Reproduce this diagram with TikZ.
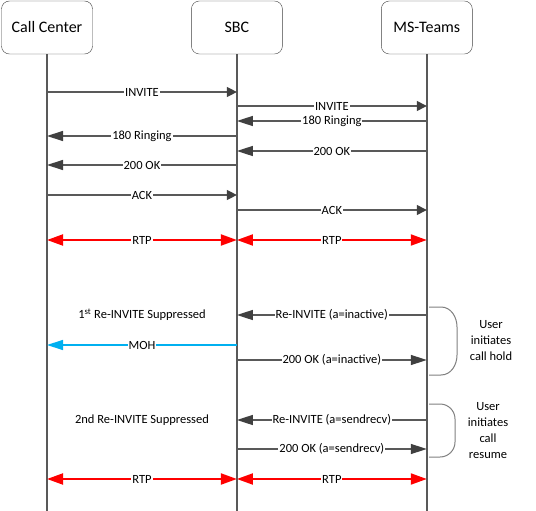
\documentclass[tikz,border=0pt]{standalone}
\usepackage{fontspec}
\setmainfont{Carlito}
\usetikzlibrary{positioning,arrows.meta}
\definecolor{linegray}{RGB}{89,89,89}
\definecolor{headgray}{RGB}{64,64,64}
\definecolor{mohblue}{RGB}{0,176,240}

\begin{document}
\begin{tikzpicture}[x=1pt,y=-1pt,node distance=98.5pt,
  party/.style = {draw=headgray, rounded corners=8pt, minimum width=91pt, minimum height=53pt, font=\fontsize{16}{19}\selectfont},
  life/.style = {draw=linegray, line width=2pt},
  msg/.style = {draw=linegray, line width=1.3pt, -{Triangle[length=16pt,width=10pt,color=headgray]}},
  shortmsg/.style = {draw=linegray, line width=1.3pt, -{Triangle[length=10pt,width=10pt,color=headgray]}},
  moh/.style = {draw=mohblue, line width=1.3pt, -{Triangle[length=16pt,width=10pt]}},
  rtp/.style = {draw=red, line width=2pt, {Triangle[length=16pt,width=11pt]}-{Triangle[length=16pt,width=11pt]}},
  lbl/.style = {fill=white, inner sep=1pt, font=\fontsize{12.5}{15}\selectfont},
  note/.style = {align=center, font=\fontsize{12.5}{16}\selectfont},
  bracket/.style = {draw=gray, line width=1pt}]
\useasboundingbox (0,0) rectangle (536,511);

\node (cc) [party] at (47,27.5) {Call Center};
\node (sbc) [party, right=of cc] {SBC};
\node (ms) [party, right=of sbc] {MS-Teams};

\coordinate (bot) at (0,511);
\coordinate (r1) at (0,92);
\coordinate (r2) at (0,106);
\coordinate (r3) at (0,121);
\coordinate (r4) at (0,136);
\coordinate (r5) at (0,151);
\coordinate (r6) at (0,165);
\coordinate (r7) at (0,195);
\coordinate (r8) at (0,210);
\coordinate (r9) at (0,240);
\coordinate (r10) at (0,315);
\coordinate (r11) at (0,345);
\coordinate (r12) at (0,360);
\coordinate (r13) at (0,420);
\coordinate (r14) at (0,449);
\coordinate (r15) at (0,479);

\draw[life] (cc.south) -- (cc |- bot);
\draw[life] (sbc.south) -- (sbc |- bot);
\draw[life] (ms.south) -- (ms |- bot);

\draw[shortmsg] (cc |- r1) -- node[lbl] {INVITE} (sbc |- r1);
\draw[shortmsg] (sbc |- r2) -- node[lbl] {INVITE} (ms |- r2);
\draw[msg] (ms |- r3) -- node[lbl] {180 Ringing} (sbc |- r3);
\draw[msg] (sbc |- r4) -- node[lbl] {180 Ringing} (cc |- r4);
\draw[msg] (ms |- r5) -- node[lbl] {200 OK} (sbc |- r5);
\draw[msg] (sbc |- r6) -- node[lbl] {200 OK} (cc |- r6);
\draw[shortmsg] (cc |- r7) -- node[lbl] {ACK} (sbc |- r7);
\draw[shortmsg] (sbc |- r8) -- node[lbl] {ACK} (ms |- r8);
\draw[rtp] (cc |- r9) -- node[lbl] {RTP} (sbc |- r9);
\draw[rtp] (sbc |- r9) -- node[lbl] {RTP} (ms |- r9);

\node (sup1) [note] at (142,315) {1\textsuperscript{st} Re-INVITE Suppressed};
\draw[msg] (ms |- r10) -- node[lbl] {Re-INVITE (a=inactive)} (sbc |- r10);
\draw[moh] (sbc |- r11) -- node[lbl] {MOH} (cc |- r11);
\draw[msg] (sbc |- r12) -- node[lbl] {200 OK (a=inactive)} (ms |- r12);
\draw[bracket] (429,307) -- (441,307) to[out=0,in=90] (457,327) -- (457,355) to[out=-90,in=0] (441,375) -- (429,375);
\node (hold) [note] at (491,341) {User\\initiates\\call hold};

\node (sup2) [note] at (142,420) {2nd Re-INVITE Suppressed};
\draw[msg] (ms |- r13) -- node[lbl] {Re-INVITE (a=sendrecv)} (sbc |- r13);
\draw[msg] (sbc |- r14) -- node[lbl] {200 OK (a=sendrecv)} (ms |- r14);
\draw[bracket] (429,404) -- (440,404) to[out=0,in=90] (455,419) -- (455,442) to[out=-90,in=0] (440,457) -- (429,457);
\node (resume) [note] at (488,431) {User\\initiates\\call\\resume};

\draw[rtp] (cc |- r15) -- node[lbl] {RTP} (sbc |- r15);
\draw[rtp] (sbc |- r15) -- node[lbl] {RTP} (ms |- r15);

\end{tikzpicture}
\end{document}
